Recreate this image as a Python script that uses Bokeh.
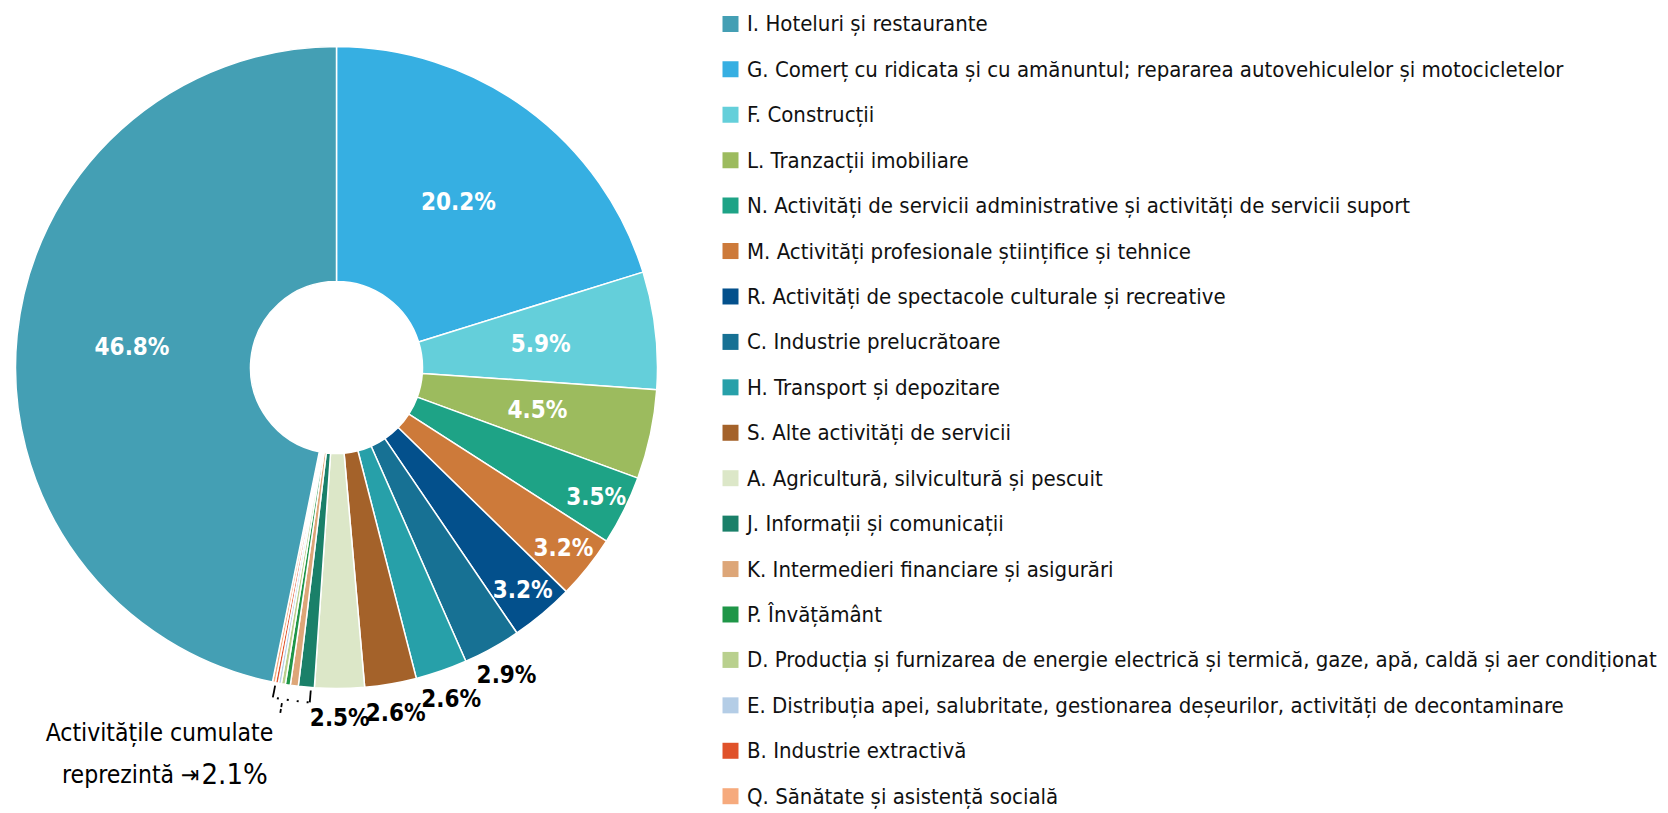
import math
from bokeh.plotting import figure
from bokeh.models import Range1d, ColumnDataSource
from bokeh.embed import file_html
from bokeh.resources import INLINE
from bokeh.core.properties import value

# ---- data (legend order) ----
categories = [
    "I. Hoteluri și restaurante",
    "G. Comerț cu ridicata și cu amănuntul; repararea autovehiculelor și motocicletelor",
    "F. Construcții",
    "L. Tranzacții imobiliare",
    "N. Activități de servicii administrative și activități de servicii suport",
    "M. Activități profesionale științifice și tehnice",
    "R. Activități de spectacole culturale și recreative",
    "C. Industrie prelucrătoare",
    "H. Transport și depozitare",
    "S. Alte activități de servicii",
    "A. Agricultură, silvicultură și pescuit",
    "J. Informații și comunicații",
    "K. Intermedieri financiare și asigurări",
    "P. Învățământ",
    "D. Producția și furnizarea de energie electrică și termică, gaze, apă, caldă și aer condiționat",
    "E. Distribuția apei, salubritate, gestionarea deșeurilor, activități de decontaminare",
    "B. Industrie extractivă",
    "Q. Sănătate și asistență socială",
]
shares = [46.8, 20.2, 5.9, 4.5, 3.5, 3.2, 3.2, 2.9, 2.6, 2.6, 2.5,
          0.8, 0.4, 0.25, 0.2, 0.15, 0.15, 0.15]
colors = ["#449fb4", "#36afe2", "#64cfda", "#9cbb5e", "#1ea386", "#cd7a3a",
          "#03508c", "#177194", "#27a0a9", "#a4622a", "#dce7c8", "#1a8069",
          "#dda678", "#1f9648", "#b9d08e", "#b4cde6", "#e0522a", "#f6aa7d"]
small_codes = ["J", "K", "P", "D", "E", "B", "Q"]
annot_line1 = "Activitățile cumulate"
annot_line2 = "reprezintă ⇥"

FONT = "DejaVu Sans Condensed"

# ---- geometry (pixel-like data space) ----
PW, PH = 1668, 813
CX, CY = 336, PH - 367
R_OUT, R_IN = 321, 86


def Y(ref_y):
    return PH - ref_y


p = figure(width=PW, height=PH, x_range=Range1d(0, PW), y_range=Range1d(0, PH),
           output_backend="svg", toolbar_location=None, min_border=0,
           x_axis_location=None, y_axis_location=None)
p.grid.visible = False
p.outline_line_color = None
p.background_fill_color = "white"

# pie order: clockwise from 12 o'clock, starting with the 2nd category, ending with the 1st
order = list(range(1, len(shares))) + [0]
total = sum(shares)
starts, ends, mids = {}, {}, {}
acc = 0.0
for i in order:
    a0 = acc / total * 360.0
    acc += shares[i]
    a1 = acc / total * 360.0
    starts[i], ends[i], mids[i] = a0, a1, (a0 + a1) / 2


def math_ang(cw_deg):
    return math.radians(90.0 - cw_deg)


src = ColumnDataSource(dict(
    start=[math_ang(starts[i]) for i in order],
    end=[math_ang(ends[i]) for i in order],
    color=[colors[i] for i in order],
))
p.annular_wedge(x=CX, y=CY, inner_radius=R_IN, outer_radius=R_OUT,
                start_angle="start", end_angle="end", direction="clock",
                fill_color="color", line_color="white", line_width=1.5, source=src)

# ---- slice labels ----
lx, ly, lt, lc = [], [], [], []
for i in order:
    v = shares[i]
    if v < 2.0:
        continue
    if v >= 4.0:
        r, col = (R_IN + R_OUT) / 2 + 2, "white"
    elif v >= 3.0:
        r, col = R_OUT - 31, "white"
    else:
        r, col = R_OUT + 30, "black"
    th = math.radians(mids[i])
    lx.append(CX + r * math.sin(th))
    ly.append(CY + r * math.cos(th))
    lt.append(f"{v:.1f}%")
    lc.append(col)
p.text(x=lx, y=ly, text=lt, text_color=lc, text_font=value(FONT), text_font_style="bold",
       text_font_size="24px", text_align="center", text_baseline="middle")

# ---- bracket for small slices ----
small_idx = [k for k, c in enumerate(categories) if c.split(".")[0] in small_codes]
b0 = min(starts[k] for k in small_idx)
b1 = max(ends[k] for k in small_idx)
RB = 336
p.arc(x=CX, y=CY, radius=RB, start_angle=math_ang(b0 + 0.8), end_angle=math_ang(b1 - 0.8),
      direction="clock", line_color="black", line_width=2, line_dash="2 8")
for a in (b0 + 0.6, b1 - 0.6):
    t = math.radians(a)
    p.line(x=[CX + 324 * math.sin(t), CX + RB * math.sin(t)],
           y=[CY + 324 * math.cos(t), CY + RB * math.cos(t)],
           line_color="black", line_width=1.8)
tm = math.radians((b0 + b1) / 2 + 1.5)
p.line(x=[CX + 340 * math.sin(tm), CX + 350 * math.sin(tm)],
       y=[CY + 340 * math.cos(tm), CY + 350 * math.cos(tm)],
       line_color="black", line_width=1.8, line_dash="4 2")

small_total = sum(shares[k] for k in small_idx)
p.text(x=[159], y=[Y(732)], text=[annot_line1], text_font=value(FONT), text_font_size="24.5px",
       text_align="center", text_baseline="middle", text_color="black")
p.text(x=[199], y=[Y(774)], text=[annot_line2], text_font=value(FONT), text_font_size="24.5px",
       text_align="right", text_baseline="middle", text_color="black")
p.text(x=[201], y=[Y(773)], text=[f"{small_total:.1f}%"], text_font=value(FONT), text_font_size="29px",
       text_align="left", text_baseline="middle", text_color="black")

# ---- legend ----
ROW0, PITCH = 23.4, 45.43
ry = [Y(ROW0 + k * PITCH) for k in range(len(categories))]
p.rect(x=[730] * len(categories), y=ry, width=16, height=16, fill_color=colors, line_color=None)
p.text(x=[746.5] * len(categories), y=ry, text=categories, text_font=value(FONT),
       text_font_size="22px", text_align="left", text_baseline="middle", text_color="#111111")

open("out.html", "w").write(file_html(p, INLINE))
